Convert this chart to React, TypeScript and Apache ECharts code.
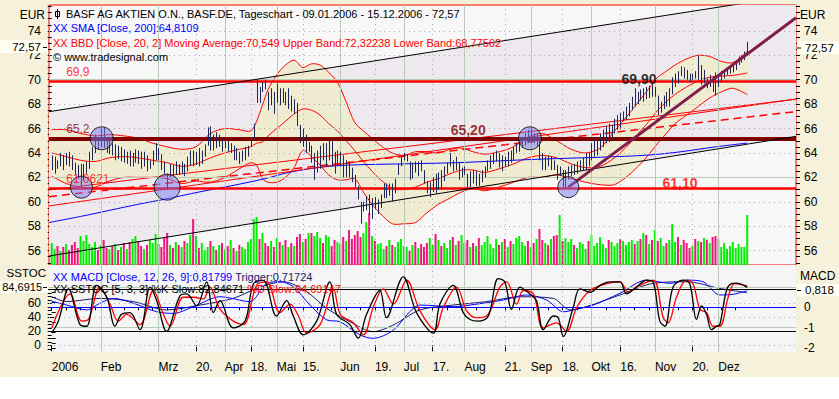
import React, { useEffect, useRef } from 'react';
import * as echarts from 'echarts';

// ---------- price data (trading-day index 0 = 09.01.2006) ----------
const highs = [
  63.8,63.7,63.4,64.0,63.8,64.0,64.1,63.8,63.2,63.0,
  63.1,63.1,63.3,64.1,64.5,65.5,65.3,66.0,66.1,65.1,
  65.0,64.8,64.7,64.6,64.5,64.3,64.1,64.2,64.0,64.3,
  64.2,64.1,64.1,63.8,63.4,64.2,64.8,64.4,63.9,63.3,
  62.3,63.1,63.0,63.3,63.1,63.3,63.1,63.7,64.2,64.2,
  64.1,64.4,64.2,64.7,66.1,66.2,65.5,65.7,65.5,65.1,
  65.2,65.0,64.8,64.6,64.4,64.1,64.2,64.5,64.6,65.3,
  66.4,70.0,69.4,69.8,70.0,69.0,69.3,69.0,69.7,69.3,
  69.3,69.0,69.3,68.7,68.4,68.1,66.3,66.0,65.5,64.9,
  64.6,64.0,64.2,64.6,64.8,64.8,65.2,65.0,64.1,64.2,
  64.1,63.8,63.4,63.3,62.8,62.2,61.3,60.0,60.0,60.4,
  60.6,60.3,60.4,60.2,60.6,61.5,61.5,61.5,61.5,61.9,
  63.1,63.7,64.0,63.9,63.3,63.2,63.3,63.3,63.4,62.6,
  61.7,61.6,62.0,62.3,62.4,62.6,62.9,63.2,64.0,63.4,
  63.7,63.2,62.8,62.9,62.3,62.5,62.6,62.5,62.3,62.6,
  62.9,63.4,63.8,64.0,64.2,64.0,63.8,63.7,64.1,64.2,
  64.5,64.8,65.1,65.3,65.6,65.9,66.0,65.6,65.6,65.2,
  64.0,63.7,63.8,63.7,63.4,63.0,62.9,62.6,62.6,62.9,
  63.0,63.1,63.3,63.4,63.6,64.0,64.0,64.8,65.1,65.2,
  65.6,65.9,66.2,66.4,66.3,66.8,67.1,67.3,67.4,67.8,
  68.1,68.6,69.3,69.0,69.2,69.3,69.4,69.5,69.6,69.4,
  68.7,68.2,68.7,69.0,69.3,70.2,70.5,70.7,71.1,71.0,
  70.8,70.5,70.5,70.7,72.0,71.2,70.8,70.1,70.4,70.3,
  70.6,70.4,70.7,70.8,70.9,71.2,71.3,71.5,71.9,72.0,
  72.3,73.1,
];
const lows = [
  62.6,62.3,62.7,62.9,62.6,63.0,62.9,62.6,62.2,61.9,
  61.2,61.8,62.3,62.7,63.4,64.0,64.3,64.5,64.4,64.0,
  63.9,63.8,63.4,63.5,63.3,63.2,63.1,62.9,62.9,63.2,
  63.1,62.7,62.9,62.5,62.7,63.0,63.4,63.4,62.6,62.3,
  61.0,62.0,62.1,62.2,62.2,62.3,62.1,62.5,63.0,62.9,
  63.0,62.9,63.1,63.7,64.6,64.2,64.2,64.4,64.5,64.1,
  64.4,64.1,64.0,63.4,63.4,63.1,63.3,63.4,63.7,64.5,
  65.2,68.1,68.1,69.0,69.2,67.5,67.9,67.2,68.1,67.9,
  68.1,67.9,67.6,67.4,67.2,66.2,64.8,64.5,64.0,64.1,
  63.2,61.8,62.4,62.7,63.4,62.9,63.4,62.9,62.3,62.9,
  62.9,62.0,62.0,62.0,61.6,61.2,60.2,58.2,59.2,59.3,
  58.9,58.6,59.4,59.0,59.5,60.3,60.3,60.5,60.0,60.7,
  62.2,62.9,63.4,63.3,61.8,61.9,62.4,62.1,62.5,61.5,
  60.7,60.4,60.8,60.7,61.0,61.0,61.7,62.3,62.9,62.5,
  62.6,61.8,62.0,62.2,61.2,61.2,61.5,61.3,61.3,61.6,
  62.0,62.5,62.7,63.1,63.3,62.8,62.5,62.9,62.9,63.2,
  63.4,64.0,64.1,64.4,64.6,64.8,64.8,64.8,64.5,63.4,
  62.6,62.6,62.9,62.6,62.6,61.8,62.1,61.2,61.1,61.8,
  62.1,62.2,62.3,62.5,62.6,62.6,62.9,63.4,63.7,63.8,
  64.2,64.5,64.8,64.9,65.1,65.6,65.9,66.0,66.6,66.7,
  67.0,67.5,67.8,68.0,68.3,68.2,68.4,68.5,68.6,68.6,
  67.1,67.3,67.6,67.8,67.8,68.8,69.4,69.7,70.3,70.1,
  70.0,69.8,70.0,70.1,70.0,69.6,69.7,69.3,69.4,69.0,
  68.7,69.4,69.8,70.1,70.4,70.5,70.6,70.8,71.2,71.4,
  71.6,72.0,
];
const closes = [
  63.0,63.3,63.0,63.7,63.1,63.6,63.4,63.0,62.5,62.2,
  62.6,62.9,63.1,63.9,64.2,65.1,64.9,65.6,64.8,64.4,
  64.5,64.1,64.4,63.8,64.0,63.5,63.6,63.3,63.7,63.9,
  63.4,63.1,63.6,62.9,63.1,63.9,64.1,63.7,62.9,62.5,
  61.6,62.8,62.4,63.0,62.5,63.0,62.5,63.4,63.9,63.2,
  63.6,63.2,63.8,64.5,65.6,64.6,65.1,64.9,65.0,64.4,
  64.9,64.3,64.5,63.7,64.0,63.4,64.0,64.2,64.4,65.1,
  66.2,69.1,68.7,69.5,69.4,67.9,68.9,67.6,69.2,68.4,
  68.9,68.3,68.9,67.8,68.0,66.4,65.2,65.7,64.4,64.7,
  63.5,63.7,64.0,64.3,63.9,64.4,64.7,63.3,62.9,63.8,
  63.2,62.4,62.8,62.2,61.9,61.5,60.4,59.6,59.6,60.1,
  59.2,60.0,59.7,60.0,60.4,61.2,60.6,61.2,60.4,61.6,
  62.9,63.2,63.5,63.6,62.1,62.8,62.7,63.0,62.6,61.8,
  60.9,61.3,61.5,61.0,62.0,61.4,62.6,62.9,63.3,62.8,
  63.4,62.1,62.6,62.4,61.5,62.2,61.8,62.1,61.8,62.4,
  62.7,63.1,63.6,63.8,64.0,63.2,63.5,63.1,63.9,63.7,
  64.3,64.5,64.9,65.0,65.4,65.2,65.6,65.0,65.4,63.7,
  63.1,63.4,63.1,63.3,62.8,62.2,62.7,61.7,62.4,62.6,
  62.8,62.5,63.1,63.2,63.4,63.8,63.5,64.6,64.8,65.0,
  65.4,65.6,66.0,65.2,66.0,66.6,66.9,66.4,67.2,67.6,
  67.8,68.4,68.3,68.9,68.6,69.1,68.8,69.3,68.9,69.2,
  67.4,67.9,68.4,68.2,69.1,69.9,70.3,70.2,70.6,70.4,
  70.3,70.1,70.4,70.3,70.4,70.0,70.6,69.7,70.2,69.5,
  69.4,70.2,70.5,70.7,70.8,71.0,71.1,71.4,71.7,71.9,
  72.1,72.57,
];
// volume (relative units)
const volumes = [
  2.2,1.6,1.9,1.4,1.8,2.1,1.5,2.0,2.3,1.7,
  2.9,2.4,3.0,2.1,1.8,2.3,1.5,2.0,2.5,1.7,
  1.6,1.9,2.1,1.5,1.8,2.2,1.6,2.3,2.6,2.9,
  2.4,1.9,1.6,2.0,2.5,2.2,3.1,2.1,1.8,2.7,
  3.2,2.0,1.7,2.3,2.0,1.8,2.4,2.2,3.0,4.6,
  2.9,1.7,2.2,1.5,1.8,2.4,1.9,1.5,2.0,2.2,
  1.6,1.9,2.5,1.7,1.4,2.0,1.8,1.6,2.3,2.6,
  4.6,4.8,2.6,3.2,2.2,1.9,2.4,1.8,2.7,2.3,
  2.0,2.5,1.8,2.2,1.9,2.8,3.1,2.3,2.6,3.2,
  3.2,2.9,3.3,2.7,2.2,3.0,2.8,1.9,2.5,2.3,
  2.1,2.8,2.4,3.5,2.6,3.0,3.4,2.8,3.2,4.3,
  5.2,2.9,2.4,2.1,2.2,1.6,1.9,2.5,2.0,1.8,
  2.3,2.6,1.9,1.8,1.4,2.0,2.3,1.7,2.1,1.8,
  2.2,2.7,2.0,3.1,2.5,1.9,2.2,1.7,2.5,2.8,
  2.0,2.4,3.0,2.2,2.5,1.8,2.2,1.9,2.7,2.0,
  2.3,2.9,2.1,1.7,2.6,2.0,2.3,2.6,1.8,2.4,
  2.1,2.7,2.9,2.3,1.9,2.4,1.8,2.2,2.6,3.6,
  2.5,2.2,2.0,2.6,2.9,3.0,5.0,2.4,2.7,2.3,
  2.6,2.0,1.7,2.3,2.1,1.6,2.4,3.0,1.9,2.2,
  2.8,2.1,1.7,2.5,2.3,1.9,2.2,2.6,2.4,2.0,
  2.3,2.5,2.1,2.4,2.6,3.2,3.0,2.1,2.5,3.5,
  2.4,2.7,1.9,2.2,2.5,4.1,2.3,2.8,2.0,2.5,
  2.2,1.7,1.9,2.6,2.4,2.3,2.7,2.5,2.2,2.8,
  2.9,2.6,1.8,2.2,1.6,1.9,2.3,1.7,2.1,1.8,
  1.8,5.0,
];

// ---------- indicators ----------
const smaLine = [[-0.94,58.3],[10,58.8],[20,59.3],[30,59.8],[40,60.25],[51,60.8],[62,61.3],[74,61.9],[82,62.4],[92,62.8],[102,63.0],[120,63.1],[140,63.2],[155,63.35],[170,63.5],[190,63.65],[207,63.83],[218,64.1],[230,64.5],[241,64.81]];

const bbIdx = [0,5,10,15,20,25,30,35,40,45,50,55,60,65,69,71,73,75,78,81,84,87,90,93,96,99,102,105,108,111,114,118,122,126,130,134,138,142,146,150,155,160,165,170,175,180,185,190,195,200,204,207,210,213,216,220,224,228,232,236,241];
const bbUpper = [
  65.9,65.9,65.6,65.4,65.5,65.4,65.2,64.8,64.5,64.3,
  64.5,65.6,66.0,65.9,65.8,66.6,67.9,69.2,70.4,71.2,
  71.6,71.0,71.3,71.2,70.6,69.8,68.2,66.5,65.8,65.2,
  64.6,64.0,63.8,64.1,64.1,64.0,64.3,64.4,64.1,63.9,
  64.1,64.5,65.3,65.6,65.0,64.3,64.0,64.4,65.8,67.2,
  68.4,69.3,70.2,70.7,71.2,71.7,72.0,71.9,71.5,71.4,
  72.32,
];
const bbMiddle = [
  64.0,63.7,63.4,63.3,63.6,63.7,63.6,63.4,63.2,62.9,
  63.1,63.6,64.0,64.3,64.5,64.8,64.9,65.4,66.0,66.6,
  67.2,67.6,67.5,67.1,66.4,65.8,65.0,64.2,63.3,62.5,
  61.8,61.1,61.0,61.2,61.6,61.9,62.3,62.6,62.6,62.4,
  62.7,63.1,63.6,63.8,63.6,63.1,62.8,62.9,63.6,64.7,
  65.8,66.6,67.5,68.2,68.8,69.4,69.9,70.2,70.3,70.35,
  70.55,
];
const bbLower = [
  62.1,61.5,61.2,61.2,61.7,62.0,62.0,62.0,61.9,61.5,
  61.7,61.6,62.0,62.7,63.2,63.0,61.9,61.6,61.6,62.0,
  62.8,64.2,63.7,63.0,62.2,61.8,61.8,61.9,60.8,59.8,
  59.0,58.2,58.2,58.3,59.1,59.8,60.3,60.8,61.1,60.9,
  61.2,61.6,62.0,62.0,62.2,61.9,61.6,61.4,61.4,62.2,
  63.1,63.9,64.8,65.6,66.4,67.1,67.8,68.5,69.0,69.3,
  68.78,
];

const stochK = [[0,17.5],[2.3,34.5],[5.8,80.7],[9.8,29.6],[12.1,27.2],[15.6,85.6],[19.1,68.6],[21.9,27.2],[24.2,44.2],[27.1,46.7],[30.6,22.3],[34.1,83.2],[36.4,63.7],[39.8,19.9],[44.5,71.0],[46.8,73.4],[50.2,56.4],[53.7,90.5],[56,46.7],[58.3,63.7],[62.9,24.8],[67,34.5],[69.9,88.0],[73.3,92.8],[77.9,41.8],[81.4,63.7],[83.7,41.8],[87.2,15.0],[91.8,34.5],[96.4,90.5],[98.7,44.2],[103.3,29.6],[106.2,10.2],[109.1,44.2],[113.7,78.3],[116,39.4],[121.8,97.8],[126.4,46.7],[132.2,17.5],[134.5,58.8],[139.1,85.6],[142.6,46.7],[144.9,36.9],[147.8,34.5],[151.3,41.8],[154.7,95.3],[157,90.5],[159.3,51.5],[162.2,83.2],[165.7,73.4],[168,63.7],[170.3,22.3],[173.8,41.8],[175.5,39.4],[177.3,12.6],[180.7,54.0],[183,80.7],[186.5,75.8],[190,85.6],[193.4,90.5],[196.9,90.5],[199.2,73.4],[202.6,83.2],[206.1,92.9],[208.4,90.5],[210.7,34.5],[212.5,27.2],[215.3,83.2],[218.8,92.9],[221.1,88.0],[223.4,36.9],[225.2,56.4],[226.9,44.2],[228.6,22.3],[230.4,27.2],[231.5,29.6],[233.8,78.3],[235.5,88.0],[237.2,88.9],[241,82.8]];
const stochD = [[0,24.8],[6.4,73.4],[10.4,34.5],[12.7,36.9],[16.7,83.2],[20.2,58.8],[23.1,34.5],[26,44.2],[30.6,29.6],[35.2,78.3],[38.7,44.2],[41,27.2],[45.6,68.6],[49.1,68.6],[52.5,66.2],[54.8,83.2],[58.3,51.5],[62.9,34.5],[66.4,29.6],[71,85.6],[74.5,90.5],[79.1,46.7],[82.6,58.8],[85.5,41.8],[88.3,17.5],[93,29.6],[97.6,80.7],[100,44.2],[104.5,32.1],[108,15.0],[111.4,54.0],[114.9,80.7],[118.4,58.8],[123,92.9],[127.6,49.2],[132.8,22.3],[135.7,54.0],[140.3,83.2],[143.8,49.2],[147.2,39.4],[150.7,41.8],[155.3,83.2],[157.6,90.5],[161.1,58.8],[163.4,78.3],[166.9,73.4],[170.3,24.8],[174.9,32.1],[178.4,19.9],[181.9,54.0],[186.5,78.3],[192.3,88.0],[196.9,90.5],[199.8,75.8],[202.6,83.2],[208.4,92.9],[211.9,39.4],[213.6,32.1],[216.5,68.6],[219.9,92.9],[222.2,88.0],[224.6,51.5],[226.9,46.7],[229.2,27.2],[231.5,27.2],[234.4,68.6],[236.7,88.0],[241,84.69]];
const macdLine = [[0,0.3],[5.2,0.11],[12.1,-0.13],[16.7,0.2],[21.4,0.44],[28.3,0.2],[36.4,-0.22],[42.1,-0.3],[49.1,0.03],[58.3,0.52],[68.7,0.28],[74.5,1.18],[79.1,1.26],[83.7,1.02],[89.5,0.11],[95.3,-0.62],[99.9,-0.71],[106.8,-1.36],[111.4,-1.53],[118.4,-1.12],[124.1,-0.21],[127.6,0.11],[139.1,0.03],[144.9,0.11],[156.5,0.36],[164.5,0.61],[171.5,0.36],[177.3,-0.22],[183,-0.05],[187.6,0.11],[196.9,0.69],[206.1,1.34],[214.2,1.18],[220,1.34],[225.7,1.26],[231.5,0.61],[236.1,0.64],[241,0.818]];
const triggerLine = [[0,0.52],[5.2,0.28],[16.7,0.44],[28.3,0.28],[39.8,-0.13],[51.4,0.11],[62.9,0.44],[71,0.93],[80.3,1.26],[88.3,0.77],[95.3,-0.05],[103.3,-0.71],[111.4,-1.2],[118.4,-0.87],[127.6,-0.13],[139.1,0.11],[150.7,0.28],[162.2,0.52],[173.8,0.44],[179.6,-0.13],[185.3,0.03],[196.9,0.61],[208.4,1.18],[220,1.26],[231.5,0.93],[241,0.717]];

// ---------- drawing tools (trend channel, lines, pivots, levels) ----------
const channelX = [-0.94, 257.9];
const channelUpper = [67.38, 76.93];
const channelLower = [55.56, 65.36];
const redLineA = [[-0.94, 59.66], [257.9, 68.42]];
const redLineB = [[-0.94, 60.97], [257.9, 68.40]];
const redDashed = [[-0.94, 60.42], [257.9, 67.39]];
const trendLine = [[179, 61.2], [257.9, 75.07]];
const pivotIdx = [10.3, 17.3, 40.0, 165.7, 179.0];
const pivotVal = [61.2, 65.2, 61.2, 65.2, 61.2];
const levelValues = [69.9, 65.2, 61.1];
const levelNames = ['69,9', '65,2', '61,0621'];
const levelTags = ['69,90', '65,20', '61,10'];
const levelTagIdx = [203.5, 144.3, 217.7];

// ---------- axis ticks / labels ----------
const tickIdx = [0,17,37,50,60,69,78,87,100,112,122,132,143,157,166,177,187,197,209,222,231];
const tickLabels = ['2006','Feb','Mrz','20.','Apr','18.','Mai','15.','Jun','19.','Jul','17.','Aug','21.','Sep','18.','Okt','16.','Nov','20.','Dez'];
const monthIdx = [17,37,60,78,100,122,143,166,187,209,231];
const midMonthIdx = [50,69,87,112,132,157,177,197,222];
const weekIdx = [0,5,10,15,20,25,30,35,40,45,50,55,60,65,69,73,78,82,87,92,97,102,107,112,117,122,127,132,137,142,147,152,157,162,167,172,177,182,187,192,197,202,207,212,217,222,227,232,237];
const priceLabels = [56,58,60,62,64,66,68,70,72,74];
const stochLabels = [0,20,40,60];
const macdLabels = [-2,-1,0];

const X_MIN = -0.94, X_MAX = 257.9;
const P_MIN = 54.824, P_MAX = 76.118;
const S_MIN = -9.6, S_MAX = 114.7;
const M_MIN = -2.202, M_MAX = 2.084;

function steps(a: number, b: number, s: number) {
  const r: number[] = [];
  for (let v = a; v <= b + 1e-9; v += s) r.push(Math.round(v * 1000) / 1000);
  return r;
}

const FONT = 'Liberation Sans';
const GRID_SOLID = '#B8CBB6';
const GRID_DOT = '#A8A8A8';
const SMOOTH = 0.3;

function buildOption() {
  const bars = highs.map((h, i) => [i, h, lows[i], closes[i]]);
  const volData = volumes.map((v, i) => ({
    value: [i, v],
    itemStyle: { color: i === 0 || closes[i] >= closes[i - 1] ? '#00F000' : '#F0147D' },
  }));
  const chUp = channelX.map((x, k) => [x, channelUpper[k]]);
  const chLo = channelX.map((x, k) => [x, channelLower[k]]);
  const bbU = bbIdx.map((x, k) => [x, bbUpper[k]]);
  const bbM = bbIdx.map((x, k) => [x, bbMiddle[k]]);
  const bbL = bbIdx.map((x, k) => [x, bbLower[k]]);

  // filled band between two point lists (drawn once, as a polygon)
  const band = (upper: number[][], lower: number[][], color: string, z: number, smooth: number) => ({
    type: 'custom', xAxisIndex: 0, yAxisIndex: 0, silent: true, z, clip: true,
    data: upper, encode: { x: 0, y: 1 },
    renderItem: (params: any, api: any) => {
      if (params.dataIndex !== 0) return null;
      const pts = [...upper.map((p) => api.coord(p)), ...lower.slice().reverse().map((p) => api.coord(p))];
      return { type: 'polygon', shape: { points: pts, smooth }, style: { fill: color, stroke: null } };
    },
  });
  // BB lines drawn with the same smoothing as the fill
  const bbLines = {
    type: 'custom', xAxisIndex: 0, yAxisIndex: 0, silent: true, z: 4, clip: true,
    data: bbU, encode: { x: 0, y: 1 },
    renderItem: (params: any, api: any) => {
      if (params.dataIndex !== 0) return null;
      const mk = (arr: number[][]) => ({
        type: 'polyline',
        shape: { points: arr.map((p) => api.coord(p)), smooth: SMOOTH },
        style: { stroke: '#FF0000', lineWidth: 1, fill: null },
      });
      return { type: 'group', children: [mk(bbU), mk(bbM), mk(bbL)] };
    },
  };

  const vLines = (xa: number, ya: number) => ({
    type: 'line', xAxisIndex: xa, yAxisIndex: ya, data: [], z: 3, silent: true,
    markLine: {
      silent: true, symbol: 'none', animation: false, label: { show: false },
      data: [
        ...monthIdx.map((x) => ({ xAxis: x, lineStyle: { color: GRID_SOLID, width: 1, type: 'solid' } })),
        ...midMonthIdx.map((x) => ({ xAxis: x, lineStyle: { color: GRID_DOT, width: 1, type: [1, 4] } })),
      ],
    },
  });
  const hLines = (xa: number, ya: number, items: any[], z = 3) => ({
    type: 'line', xAxisIndex: xa, yAxisIndex: ya, data: [], z, silent: true,
    markLine: { silent: true, symbol: 'none', animation: false, label: { show: false }, data: items },
  });

  const levelColors = ['#FF0000', '#800000', '#FF0000'];
  const levelWidths = [2.5, 4, 2.5];
  const tagColors = ['#000000', '#800000', '#FF0000'];
  const tagOffsets = [[0, -2], [0, -8], [0, -5]];
  const pivotSizes = [22, 23, 26, 23, 21];

  const lineBase = { type: 'line', symbol: 'none', silent: true, xAxisIndex: 0, yAxisIndex: 0 };

  const series: any[] = [
    band(chUp, chLo, '#EEE9EF', 1, 0),
    band(bbU, bbL, '#F0ECD2', 2, SMOOTH),
    vLines(0, 0),
    hLines(0, 0, [
      ...[62, 70].map((v) => ({ yAxis: v, lineStyle: { color: GRID_SOLID, width: 1, type: 'solid' } })),
      ...[56, 58, 60, 64, 66, 68, 72, 74].map((v) => ({ yAxis: v, lineStyle: { color: GRID_DOT, width: 1, type: [1, 4] } })),
    ]),
    { type: 'bar', xAxisIndex: 0, yAxisIndex: 2, data: volData, barWidth: 2, z: 3, silent: true },
    { ...lineBase, data: smaLine, smooth: SMOOTH, lineStyle: { color: '#0000FF', width: 1 }, z: 4 },
    bbLines,
    { ...lineBase, data: redLineA, lineStyle: { color: '#FF0000', width: 1 }, z: 4 },
    { ...lineBase, data: redLineB, lineStyle: { color: '#FF0000', width: 1 }, z: 4 },
    { ...lineBase, data: redDashed, lineStyle: { color: '#FF0000', width: 1.5, type: [8, 5] }, z: 4 },
    { ...lineBase, data: chLo, lineStyle: { color: '#000000', width: 1 }, z: 5 },
    { ...lineBase, data: chUp, lineStyle: { color: '#000000', width: 1 }, z: 5 },
    hLines(0, 0, levelValues.map((v, k) => ({ yAxis: v, lineStyle: { color: levelColors[k], width: levelWidths[k], type: 'solid' } })), 6),
    {
      type: 'custom', xAxisIndex: 0, yAxisIndex: 0, data: bars, z: 7, silent: true,
      encode: { x: 0, y: [1, 2] },
      renderItem: (params: any, api: any) => {
        const x = api.value(0);
        const pH = api.coord([x, api.value(1)]);
        const pL = api.coord([x, api.value(2)]);
        const px = Math.round(pH[0]) + 0.5;
        return {
          type: 'line',
          shape: { x1: px, y1: pH[1], x2: px, y2: pL[1] },
          style: { stroke: '#1E2858', lineWidth: 1 },
        };
      },
    },
    { ...lineBase, data: trendLine, lineStyle: { color: '#7E1E4E', width: 3 }, z: 8 },
    {
      type: 'scatter', xAxisIndex: 0, yAxisIndex: 0, silent: true, z: 9,
      data: pivotIdx.map((x, k) => ({ value: [x, pivotVal[k]], symbolSize: pivotSizes[k] })),
      itemStyle: { color: 'rgba(118,118,238,0.62)', borderColor: '#000000', borderWidth: 1 },
    },
    {
      type: 'scatter', xAxisIndex: 0, yAxisIndex: 0, silent: true, z: 10, symbolSize: 0,
      data: levelValues.map((v, k) => ({
        value: [5, v],
        label: {
          show: true, formatter: levelNames[k], position: 'top', distance: 3, align: 'left',
          color: levelColors[k], fontSize: 12, fontFamily: FONT,
        },
      })),
    },
    {
      type: 'scatter', xAxisIndex: 0, yAxisIndex: 0, silent: true, z: 10, symbolSize: 0,
      data: levelValues.map((v, k) => ({
        value: [levelTagIdx[k], v],
        label: {
          show: true, formatter: levelTags[k], position: 'inside', offset: tagOffsets[k],
          color: tagColors[k], fontSize: 14, fontWeight: 'bold', fontFamily: FONT,
        },
      })),
    },

    // ---------- lower panel ----------
    vLines(1, 3),
    hLines(1, 3, [0, 40, 60].map((v) => ({ yAxis: v, lineStyle: { color: GRID_DOT, width: 1, type: [1, 4] } }))),
    hLines(1, 4, [-1, 1].map((v) => ({ yAxis: v, lineStyle: { color: GRID_SOLID, width: 1, type: 'solid' } }))),
    hLines(1, 3, [80, 20].map((v) => ({ yAxis: v, lineStyle: { color: '#000000', width: 1, type: 'solid' } }))),
    hLines(1, 4, [{ yAxis: 0, lineStyle: { color: '#0000FF', width: 1, type: 'solid' } }]),
    { type: 'line', symbol: 'none', silent: true, xAxisIndex: 1, yAxisIndex: 4, data: triggerLine, smooth: 0.3, lineStyle: { color: '#1A1A6A', width: 1 }, z: 4 },
    { type: 'line', symbol: 'none', silent: true, xAxisIndex: 1, yAxisIndex: 4, data: macdLine, smooth: 0.3, lineStyle: { color: '#0000FF', width: 1 }, z: 4 },
    { type: 'line', symbol: 'none', silent: true, xAxisIndex: 1, yAxisIndex: 3, data: stochD, smooth: 0.35, lineStyle: { color: '#FF0000', width: 1.3 }, z: 5 },
    { type: 'line', symbol: 'none', silent: true, xAxisIndex: 1, yAxisIndex: 3, data: stochK, smooth: 0.35, lineStyle: { color: '#000000', width: 1.3 }, z: 6 },
  ];

  const axisText = { color: '#000000', fontSize: 12, fontFamily: FONT };
  const tickStyle = { color: '#000000', width: 1 };

  const labelFor = (v: number) => {
    const k = tickIdx.indexOf(Math.round(v));
    return k >= 0 ? tickLabels[k] : '';
  };

  const txt = (x: number, y: number, text: string, fill: string, extra: any = {}) => ({
    type: 'text', x, y, z: 100, silent: true,
    style: { text, fill, font: `11px "${FONT}"`, textVerticalAlign: 'middle', ...extra },
  });
  const box = (x: number, y: number, w: number, h: number) => ({
    type: 'rect', z: 99, silent: true, shape: { x, y, width: w, height: h }, style: { fill: '#FFFEF3' },
  });
  const tick = (x1: number, x2: number, y: number) => ({
    type: 'line', z: 100, silent: true, shape: { x1, y1: y, x2, y2: y }, style: { stroke: '#000', lineWidth: 1 },
  });

  return {
    animation: false,
    backgroundColor: 'transparent',
    textStyle: { fontFamily: FONT },
    grid: [
      { left: 49, right: 43, top: 5, height: 260, show: true, backgroundColor: '#F7F7F7', borderColor: '#FF0000', borderWidth: 1, containLabel: false, outerBoundsMode: 'none' },
      { left: 49, right: 43, top: 265, height: 87, show: true, backgroundColor: '#F5F5F5', borderWidth: 0, containLabel: false, outerBoundsMode: 'none' },
    ],
    xAxis: [
      { type: 'value', gridIndex: 0, min: X_MIN, max: X_MAX, show: false },
      {
        type: 'value', gridIndex: 1, min: X_MIN, max: X_MAX, position: 'bottom',
        axisLine: { show: false }, splitLine: { show: false },
        axisTick: { show: true, customValues: tickIdx, length: 6, lineStyle: tickStyle },
        axisLabel: { show: true, customValues: tickIdx, formatter: labelFor, align: 'left', margin: 9, color: '#000', fontSize: 12, fontFamily: FONT },
      },
      {
        type: 'value', gridIndex: 1, min: X_MIN, max: X_MAX, position: 'bottom',
        axisLine: { show: false }, splitLine: { show: false },
        axisTick: { show: true, customValues: weekIdx, length: 3, lineStyle: tickStyle },
        axisLabel: { show: false },
      },
    ],
    yAxis: [
      {
        type: 'value', gridIndex: 0, position: 'left', min: P_MIN, max: P_MAX,
        axisLine: { show: false }, splitLine: { show: false },
        axisTick: { show: true, customValues: steps(55, 76, 0.5), length: 4, lineStyle: tickStyle },
        axisLabel: { show: true, customValues: priceLabels, margin: 8, ...axisText },
      },
      {
        type: 'value', gridIndex: 0, position: 'right', min: P_MIN, max: P_MAX,
        axisLine: { show: false }, splitLine: { show: false },
        axisTick: { show: true, customValues: steps(55, 76, 0.5), length: 4, lineStyle: tickStyle },
        axisLabel: { show: true, customValues: priceLabels, margin: 8, ...axisText },
      },
      { type: 'value', gridIndex: 0, min: 0, max: 26, show: false },
      {
        type: 'value', gridIndex: 1, position: 'left', min: S_MIN, max: S_MAX,
        axisLine: { show: false }, splitLine: { show: false },
        axisTick: { show: true, customValues: steps(-5, 80, 5), length: 4, lineStyle: tickStyle },
        axisLabel: { show: true, customValues: stochLabels, margin: 8, ...axisText },
      },
      {
        type: 'value', gridIndex: 1, position: 'right', min: M_MIN, max: M_MAX,
        axisLine: { show: false }, splitLine: { show: false },
        axisTick: { show: true, customValues: steps(-2, 1, 0.25), length: 4, lineStyle: tickStyle },
        axisLabel: { show: true, customValues: macdLabels, margin: 8, ...axisText },
      },
    ],
    series,
    graphic: {
      elements: [
        txt(45, 15, 'EUR', '#000', { textAlign: 'right', font: `12px "${FONT}"` }),
        txt(800, 15, 'EUR', '#000', { font: `12px "${FONT}"` }),
        { type: 'line', z: 100, silent: true, shape: { x1: 57.5, y1: 9, x2: 57.5, y2: 19 }, style: { stroke: '#000', lineWidth: 1 } },
        { type: 'rect', z: 100, silent: true, shape: { x: 55.5, y: 11.5, width: 4, height: 5 }, style: { fill: 'none', stroke: '#000', lineWidth: 1 } },
        txt(66, 14, 'BASF AG AKTIEN O.N., BASF.DE, Tageschart - 09.01.2006 - 15.12.2006 - 72,57', '#000'),
        txt(53, 28, 'XX SMA [Close, 200]:64,8109', '#0000FF'),
        txt(53, 43, 'XX BBD [Close, 20, 2] Moving Average:70,549 Upper Band:72,32238 Lower Band:68,77562', '#FF0000'),
        txt(53, 57, '\u00A9 www.tradesignal.com', '#000'),
        box(0, 40, 48, 13), txt(41, 46.5, '72,57', '#000', { textAlign: 'right', font: `11.5px "${FONT}"` }), tick(43, 47, 47.5),
        box(797, 41, 42, 13), txt(805, 47.5, '72,57', '#000', { font: `11.5px "${FONT}"` }), tick(797, 801, 48),
        txt(46, 273, 'SSTOC', '#000', { textAlign: 'right', font: `11.5px "${FONT}"` }),
        txt(800, 276, 'MACD', '#000', { font: `12px "${FONT}"` }),
        box(0, 281, 48, 12), txt(42, 287, '84,6915', '#000', { textAlign: 'right', font: `11px "${FONT}"` }), tick(43, 47, 287.5),
        box(797, 284, 42, 12), txt(805, 290, '0,818', '#000', { font: `11.5px "${FONT}"` }), tick(797, 801, 290.5),
        {
          type: 'text', x: 53, y: 276.5, z: 100, silent: true,
          style: {
            text: '{a|XX MACD [Close, 12, 26, 9]:0,81799} {b|Trigger:0,71724}',
            font: `11px "${FONT}"`, textVerticalAlign: 'middle',
            rich: { a: { fill: '#0000FF', fontSize: 11, fontFamily: FONT }, b: { fill: '#1A1A6A', fontSize: 11, fontFamily: FONT } },
          },
        },
        {
          type: 'text', x: 53, y: 289, z: 100, silent: true,
          style: {
            text: '{a|XX SSTOC [5, 3, 3] %K Slow:82,84671} {b|%D Slow:84,69147}',
            font: `11px "${FONT}"`, textVerticalAlign: 'middle',
            rich: { a: { fill: '#000000', fontSize: 11, fontFamily: FONT }, b: { fill: '#FF0000', fontSize: 11, fontFamily: FONT } },
          },
        },
      ],
    },
  };
}

export default function App() {
  const ref = useRef<HTMLDivElement>(null);
  useEffect(() => {
    if (!ref.current) return;
    const chart = echarts.init(ref.current, null, { renderer: 'svg' });
    chart.setOption(buildOption() as any);
    return () => chart.dispose();
  }, []);
  return (
    <div
      style={{
        position: 'fixed', left: 0, top: 0, width: 839, height: 399,
        background: 'linear-gradient(#F5F1DA 0px, #F5F1DA 377px, #FFFFFF 377px)',
      }}
    >
      <div ref={ref} style={{ width: 839, height: 399 }} />
    </div>
  );
}
